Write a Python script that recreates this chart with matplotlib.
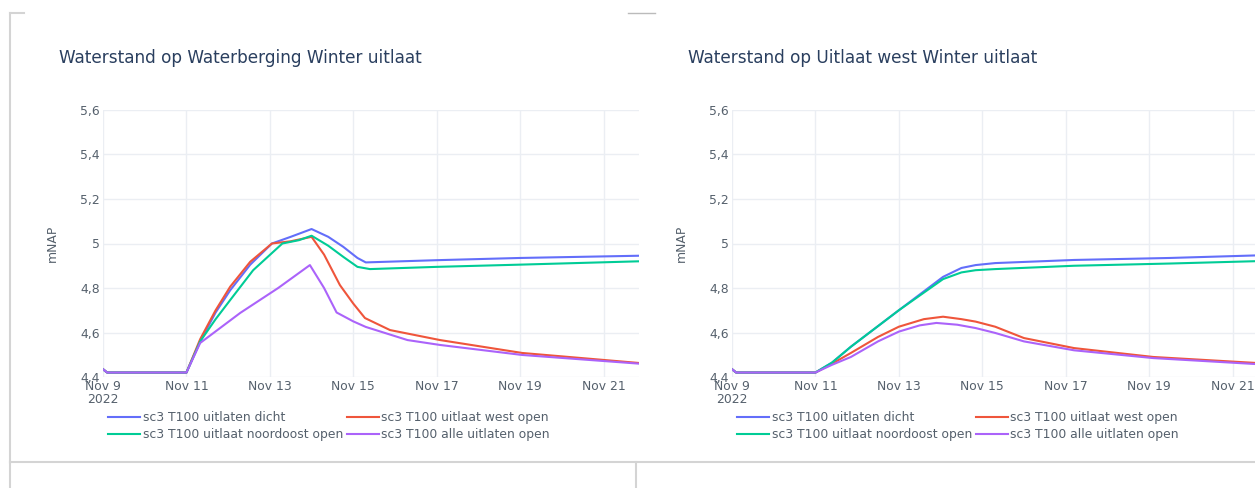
import matplotlib
matplotlib.use("Agg")
import matplotlib.pyplot as plt
import numpy as np
import pandas as pd
from matplotlib.lines import Line2D

# plotly falls back to verdana -> DejaVu Sans is the closest match
plt.rcParams['font.family'] = ['DejaVu Sans']

start = pd.Timestamp("2022-11-09")

names = ["sc3 T100 uitlaten dicht", "sc3 T100 uitlaat west open",
         "sc3 T100 uitlaat noordoost open", "sc3 T100 alle uitlaten open"]
colors = ["#636efa", "#ef553b", "#00cc96", "#ab63fa"]

# x tick days (since Nov 9) and labels
tick_days = [0, 2, 4, 6, 8, 10, 12]
tick_labels = ["Nov 9\n2022", "Nov 11", "Nov 13", "Nov 15", "Nov 17", "Nov 19", "Nov 21"]
y_ticks = [4.4, 4.6, 4.8, 5.0, 5.2, 5.4, 5.6]
y_labels = ["4,4", "4,6", "4,8", "5", "5,2", "5,4", "5,6"]

# --- Waterberging (left) --- days since Nov 9, mNAP
wb_dicht_t = [0, 0.1, 2.0, 2.33, 2.7, 3.05, 3.53, 4.05, 4.5, 5.0, 5.4, 5.76, 6.1, 6.3, 8.0, 10.0, 12.85]
wb_dicht_v = [4.435, 4.42, 4.42, 4.56, 4.69, 4.79, 4.905, 5.0, 5.03, 5.065, 5.03, 4.985, 4.935, 4.915, 4.925, 4.935, 4.945]
wb_west_t = [0, 0.1, 2.0, 2.33, 2.7, 3.05, 3.53, 4.05, 4.5, 5.0, 5.3, 5.68, 6.0, 6.28, 6.88, 8.08, 10.05, 12.85]
wb_west_v = [4.435, 4.42, 4.42, 4.57, 4.70, 4.806, 4.918, 5.0, 5.01, 5.03, 4.95, 4.813, 4.73, 4.665, 4.611, 4.566, 4.508, 4.463]
wb_no_t = [0, 0.1, 2.0, 2.33, 2.7, 3.05, 3.6, 4.3, 4.7, 5.0, 5.4, 5.76, 6.1, 6.4, 8.0, 10.0, 12.85]
wb_no_v = [4.435, 4.42, 4.42, 4.56, 4.66, 4.746, 4.88, 5.0, 5.015, 5.035, 4.99, 4.94, 4.895, 4.885, 4.895, 4.905, 4.92]
wb_alle_t = [0, 0.1, 2.0, 2.33, 3.29, 4.2, 4.96, 5.3, 5.6, 6.0, 6.3, 7.3, 8.08, 10.05, 12.85]
wb_alle_v = [4.435, 4.42, 4.42, 4.553, 4.688, 4.80, 4.903, 4.80, 4.69, 4.65, 4.625, 4.566, 4.544, 4.499, 4.46]

# --- Uitlaat west (right) ---
uw_dicht_t = [0, 0.1, 2.0, 2.4, 2.85, 4.0, 5.06, 5.5, 5.84, 6.31, 8.2, 10.5, 12.85]
uw_dicht_v = [4.435, 4.42, 4.42, 4.465, 4.536, 4.70, 4.85, 4.89, 4.903, 4.912, 4.926, 4.935, 4.948]
uw_west_t = [0, 0.1, 2.0, 2.4, 2.85, 3.5, 4.0, 4.6, 5.06, 5.5, 5.84, 6.31, 7.0, 8.2, 10.1, 12.85]
uw_west_v = [4.435, 4.42, 4.42, 4.46, 4.508, 4.58, 4.626, 4.66, 4.671, 4.66, 4.649, 4.626, 4.575, 4.53, 4.49, 4.46]
uw_no_t = [0, 0.1, 2.0, 2.4, 2.85, 4.0, 5.06, 5.5, 5.84, 6.31, 8.2, 10.5, 12.85]
uw_no_v = [4.435, 4.42, 4.42, 4.465, 4.536, 4.70, 4.84, 4.87, 4.88, 4.885, 4.90, 4.91, 4.922]
uw_alle_t = [0, 0.1, 2.0, 2.4, 2.85, 3.5, 4.0, 4.5, 4.9, 5.4, 5.84, 6.31, 7.0, 8.2, 10.1, 12.85]
uw_alle_v = [4.435, 4.42, 4.42, 4.455, 4.49, 4.56, 4.604, 4.632, 4.643, 4.635, 4.62, 4.598, 4.56, 4.52, 4.485, 4.455]

x_end = 12.85

W, H = 1255, 488
fig = plt.figure(figsize=(W / 100, H / 100), dpi=100)


def to_dates(days):
    return start + pd.to_timedelta(np.array(days), unit="D")


panels = [
    (0, "Waterstand op Waterberging Winter uitlaat",
     [(wb_dicht_t, wb_dicht_v), (wb_west_t, wb_west_v), (wb_no_t, wb_no_v), (wb_alle_t, wb_alle_v)]),
    (629, "Waterstand op Uitlaat west Winter uitlaat",
     [(uw_dicht_t, uw_dicht_v), (uw_west_t, uw_west_v), (uw_no_t, uw_no_v), (uw_alle_t, uw_alle_v)]),
]

tick_col = "#55606c"
fs = 8.9
for off, title, series in panels:
    ax = fig.add_axes([(103 + off) / W, 1 - 377 / H, 536 / W, 267 / H])
    lines = []
    for (t, v), c, n in zip(series, colors, names):
        ln, = ax.plot(to_dates(t), v, color=c, lw=1.5, label=n)
        lines.append(ln)
    ax.set_xlim(start, start + pd.Timedelta(days=x_end))
    ax.set_ylim(4.4, 5.6)
    ax.set_xticks(to_dates(tick_days))
    ax.set_xticklabels(tick_labels, linespacing=1.05)
    ax.set_yticks(y_ticks)
    ax.set_yticklabels(y_labels)
    ax.tick_params(length=0, labelsize=fs, colors=tick_col)
    ax.tick_params(axis="x", pad=2)
    ax.tick_params(axis="y", pad=2.2)
    for s in ax.spines.values():
        s.set_visible(False)
    ax.grid(color="#ebeef3", lw=1)
    ax.set_axisbelow(True)
    ax.set_ylabel("mNAP", fontsize=fs, color=tick_col)
    ax.yaxis.set_label_coords(-0.082, 0.5)

    fig.text((59 + off) / W, 1 - 58 / H, title, fontsize=12.2, color="#2a3f5f", va="center", ha="left")

    order = [0, 2, 1, 3]
    leg = ax.legend([lines[i] for i in order], [names[i] for i in order], ncol=2,
                    loc="upper left", bbox_to_anchor=((108 + off) / W, 1 - 411 / H),
                    bbox_transform=fig.transFigure, frameon=False, fontsize=fs,
                    handlelength=2.6, handletextpad=0.2, columnspacing=0.3,
                    labelspacing=0.32, borderpad=0, borderaxespad=0)
    for tx in leg.get_texts():
        tx.set_color(tick_col)

# dashboard panel borders
bcol = "#d4d4d4"
fig.add_artist(Line2D([10 / W, 10 / W], [1 - 13 / H, 1 - 462 / H], color=bcol, lw=1.5, transform=fig.transFigure))
fig.add_artist(Line2D([10 / W, 24 / W], [1 - 13 / H, 1 - 13 / H], color=bcol, lw=1.5, transform=fig.transFigure))
fig.add_artist(Line2D([628 / W, 655 / W], [1 - 13 / H, 1 - 13 / H], color="#bbbbbb", lw=1, transform=fig.transFigure))
fig.add_artist(Line2D([10 / W, 1], [1 - 462 / H, 1 - 462 / H], color=bcol, lw=1.5, transform=fig.transFigure))
fig.add_artist(Line2D([10 / W, 10 / W], [1 - 462 / H, 0], color=bcol, lw=1.5, transform=fig.transFigure))
fig.add_artist(Line2D([636 / W, 636 / W], [1 - 462 / H, 0], color=bcol, lw=1.5, transform=fig.transFigure))

fig.savefig("out.png", dpi=100)
